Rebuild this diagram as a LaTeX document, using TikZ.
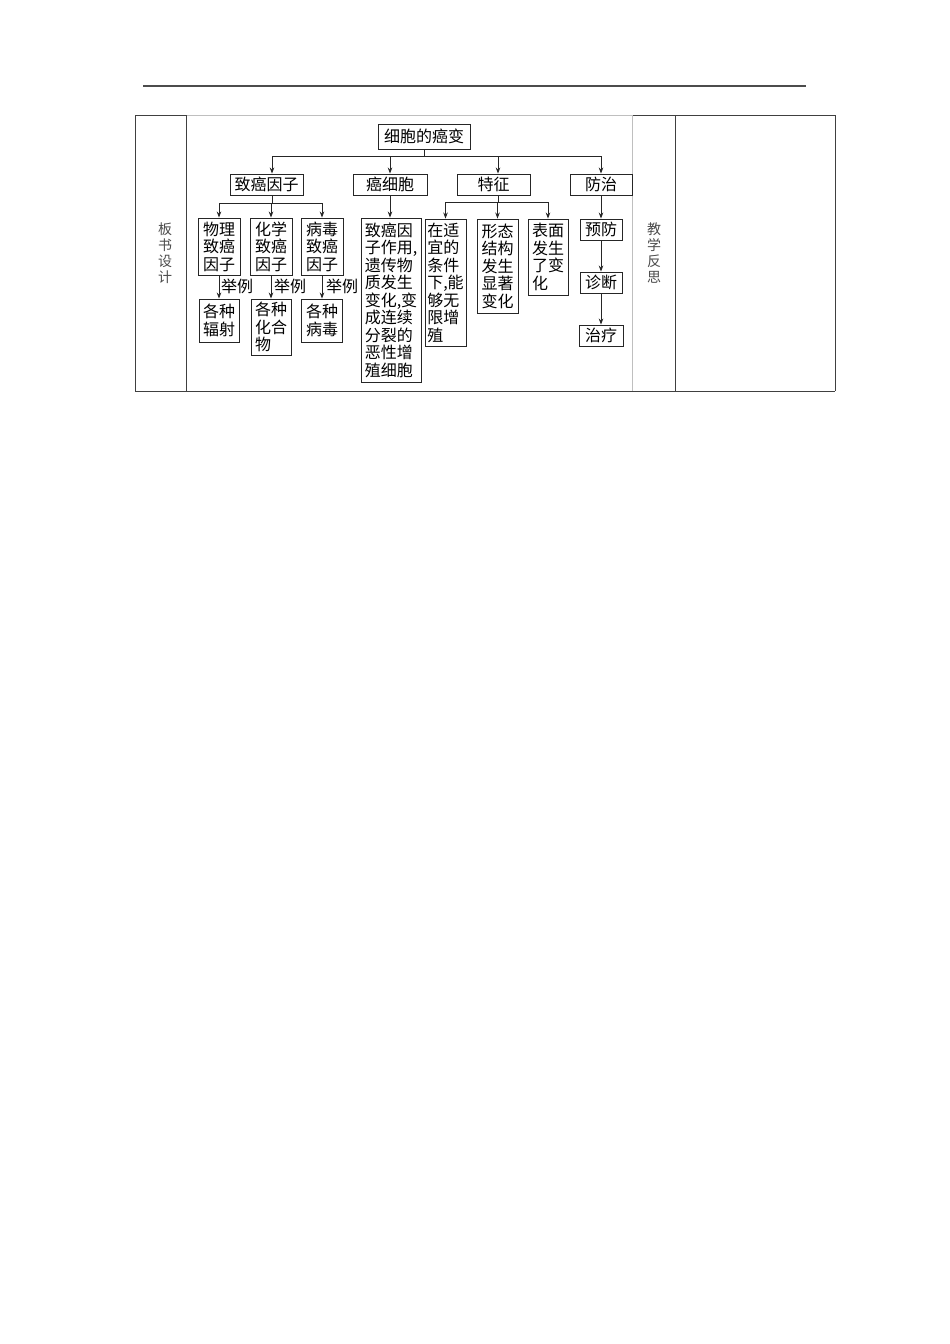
\documentclass[tikz,border=0pt]{standalone}
\usepackage{fontspec}
\setmainfont{Noto Sans CJK SC}
\usetikzlibrary{calc,arrows.meta}
\begin{document}
\begin{tikzpicture}[x=1pt,y=-1pt,
  tbl/.style={draw=black!75,line width=0.9pt},
  tbllight/.style={draw=black!25,line width=0.9pt},
  box/.style={draw=black!85,line width=0.9pt,inner sep=0pt,align=left,
    font=\fontsize{16}{17.5}\selectfont},
  ln/.style={draw=black!85,line width=0.8pt},
  arr/.style={ln,-{Stealth[length=6pt,width=4.5pt]}},
  lbl/.style={inner sep=0pt,font=\fontsize{16}{17.5}\selectfont},
  side/.style={inner sep=0pt,align=center,text=black!70,font=\fontsize{14}{16}\selectfont}]
\useasboundingbox (0,0) rectangle (950,1344);
\fill[white] (0,0) rectangle (950,1344);
% header rule
\draw[draw=black!70,line width=1.4pt] (143,86) -- (806,86);
% table
\draw[tbl] (135,115) -- (186,115);
\draw[tbllight] (186,115) -- (632,115);
\draw[tbl] (632,115) -- (835,115);
\draw[tbl] (135,391) -- (835,391);
\draw[tbl] (135,115) -- (135,391);
\draw[tbl] (186,115) -- (186,391);
\draw[tbllight] (632,115) -- (632,391);
\draw[tbl] (675,115) -- (675,391);
\draw[tbl] (835,115) -- (835,391);
\node[side] (s1) at (165,253) {板\\书\\设\\计};
\node[side] (s2) at (654,253) {教\\学\\反\\思};
% level 0
\node[box,minimum width=92pt,minimum height=25pt,align=center] (root) at (424,136.5) {细胞的癌变};
% level 1
\node[box,minimum width=73pt,minimum height=21pt,align=center] (c1) at (266.5,184.5) {致癌因子};
\node[box,minimum width=74pt,minimum height=21pt,align=center] (c2) at (390,184.5) {癌细胞};
\node[box,minimum width=73pt,minimum height=21pt,align=center] (c3) at (493.5,184.5) {特征};
\node[box,minimum width=62pt,minimum height=21pt,align=center] (c4) at (601,184.5) {防治};
\coordinate (j1) at (424,156);
\draw[ln] (root.south) -- (j1);
\draw[arr] (j1) -| ($(c1.north)+(5.5,0)$);
\draw[arr] (j1) -| (c2.north);
\draw[arr] (j1) -| ($(c3.north)+(4.5,0)$);
\draw[arr] (j1) -| (c4.north);
% under 致癌因子
\node[box,minimum width=42pt,minimum height=57pt] (d1) at (219,246.5) {物理\\致癌\\因子};
\node[box,minimum width=42pt,minimum height=57pt] (d2) at (271,246.5) {化学\\致癌\\因子};
\node[box,minimum width=42pt,minimum height=57pt] (d3) at (322,246.5) {病毒\\致癌\\因子};
\coordinate (j2) at (272,203);
\draw[ln] ($(c1.south)+(5.5,0)$) -- (j2);
\draw[arr] (j2) -| (d1.north);
\draw[arr] (j2) -| (d2.north);
\draw[arr] (j2) -| (d3.north);
\node[box,minimum width=40pt,minimum height=43pt] (e1) at (219,320.5) {各种\\辐射};
\node[box,minimum width=40pt,minimum height=56pt] (e2) at (271,327) {各种\\化合\\物};
\node[box,minimum width=41pt,minimum height=43pt] (e3) at (322,320.5) {各种\\病毒};
\draw[arr] (d1.south) -- (d1.south |- e1.north);
\draw[arr] (d2.south) -- (d2.south |- e2.north);
\draw[arr] (d3.south) -- (d3.south |- e3.north);
\node[lbl] (l1) at (237,286) {举例};
\node[lbl] (l2) at (290,286) {举例};
\node[lbl] (l3) at (342,286) {举例};
% under 癌细胞
\node[box,minimum width=60pt,minimum height=164pt] (f) at (391,300) {致癌因\\子作用,\\遗传物\\质发生\\变化,变\\成连续\\分裂的\\恶性增\\殖细胞};
\draw[arr] (c2.south) -- (c2.south |- f.north);
% under 特征
\node[box,minimum width=41pt,minimum height=127pt] (g1) at (445.5,282.5) {在适\\宜的\\条件\\下,能\\够无\\限增\\殖};
\node[box,minimum width=41pt,minimum height=94pt] (g2) at (497.5,266) {形态\\结构\\发生\\显著\\变化};
\node[box,minimum width=40pt,minimum height=76pt] (g3) at (548,257) {表面\\发生\\了变\\化};
\coordinate (j3) at (498,202);
\draw[ln] ($(c3.south)+(4.5,0)$) -- (j3);
\draw[arr] (j3) -| (g1.north);
\draw[arr] (j3) -| (g2.north);
\draw[arr] (j3) -| (g3.north);
% under 防治
\node[box,minimum width=42pt,minimum height=21pt,align=center] (h1) at (601,229.5) {预防};
\node[box,minimum width=42pt,minimum height=21pt,align=center] (h2) at (601,282.5) {诊断};
\node[box,minimum width=44pt,minimum height=21pt,align=center] (h3) at (601,335.5) {治疗};
\draw[arr] (c4.south) -- (h1.north);
\draw[arr] (h1.south) -- (h2.north);
\draw[arr] (h2.south) -- (h3.north);
\end{tikzpicture}
\end{document}
